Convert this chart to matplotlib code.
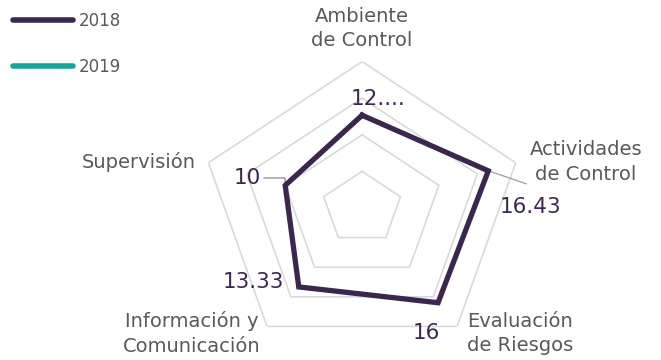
import numpy as np
import matplotlib
matplotlib.use("Agg")
import matplotlib.pyplot as plt
from matplotlib.lines import Line2D

plt.rcParams['font.family'] = ['DejaVu Sans']

categories = ["Ambiente\nde Control", "Actividades\nde Control", "Evaluación\nde Riesgos",
              "Información y\nComunicación", "Supervisión"]
values_2018 = [12.67, 16.43, 16.0, 13.33, 10.0]
values_2019 = [np.nan, np.nan, np.nan, np.nan, np.nan]
data_labels_2018 = ["12....", "16.43", "16", "13.33", "10"]
series_names = ["2018", "2019"]
ring_levels = [5, 10, 15, 20]

c18 = "#3B2650"
c19 = "#14A59B"
grid_c = "#D9D9D9"
text_c = "#595959"

fig = plt.figure(figsize=(6.61, 3.60), dpi=100)
ax = fig.add_axes([0.3033, 0.0156, 0.4889, 0.8133], projection='polar')
ax.set_aspect('auto')
ax.set_theta_offset(np.pi / 2)
ax.set_theta_direction(-1)
ax.set_ylim(0, 20)
ax.grid(False)
ax.spines['polar'].set_visible(False)
ax.set_xticks([])
ax.set_yticks([])
ax.patch.set_alpha(0)

n = len(categories)
angles = np.arange(n) * 2 * np.pi / n
ang_c = np.append(angles, angles[0])

for r in ring_levels:
    ax.plot(ang_c, [r] * (n + 1), color=grid_c, lw=1.2, zorder=1)

v18 = np.append(values_2018, values_2018[0])
v19 = np.append(values_2019, values_2019[0])
ax.plot(ang_c, v18, color=c18, lw=3.8, solid_joinstyle='miter', zorder=3)
ax.plot(ang_c, v19, color=c19, lw=3.8, zorder=3)

# category labels (offset in pixels from outer ring vertex)
cat_offsets = [(0, 33), (70, 1), (63, -7), (-75, -7), (-70, 1)]
for a, lab, off in zip(angles, categories, cat_offsets):
    ax.annotate(lab, xy=(a, ring_levels[-1]), xytext=off, textcoords='offset pixels',
                ha='center', va='center', color=text_c, fontsize=14,
                linespacing=1.38, annotation_clip=False)

# data labels
lab_offsets = [(16, 16), (42, -36), (-12, -30), (-45, 5), (-38, 7)]
for a, v, lab, off in zip(angles, values_2018, data_labels_2018, lab_offsets):
    ax.annotate(lab, xy=(a, v), xytext=off, textcoords='offset pixels',
                ha='center', va='center', color=c18, fontsize=15.5,
                annotation_clip=False, zorder=4)

# leader lines
ax.annotate("", xy=(angles[4], values_2018[4]), xytext=(-21, 7), textcoords='offset pixels',
            arrowprops=dict(arrowstyle='-', color='#A6A6A6', lw=1.2,
                            connectionstyle='angle,angleA=0,angleB=90,rad=0',
                            shrinkA=0, shrinkB=0), zorder=2)
ax.annotate("", xy=(angles[1], values_2018[1]), xytext=(38, -13), textcoords='offset pixels',
            arrowprops=dict(arrowstyle='-', color='#A6A6A6', lw=1.0,
                            shrinkA=0, shrinkB=0), zorder=2)

handles = [Line2D([], [], color=c18, lw=4, solid_capstyle='round'),
           Line2D([], [], color=c19, lw=4, solid_capstyle='round')]
fig.legend(handles, series_names, loc='upper left', bbox_to_anchor=(0.010, 0.985),
           frameon=False, fontsize=12, handlelength=3.6, handletextpad=0.35,
           labelspacing=1.65, labelcolor=text_c, borderaxespad=0.0)

fig.savefig("out.png", dpi=100)
